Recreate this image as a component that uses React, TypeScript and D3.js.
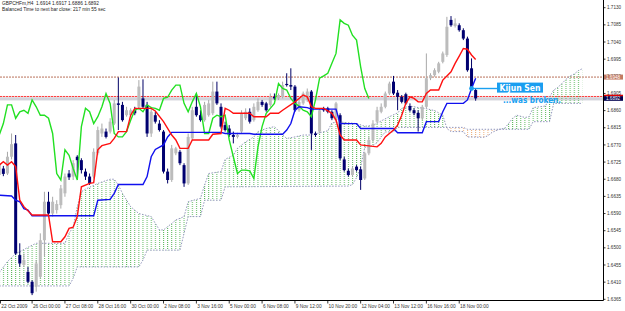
import React from "react";
import * as d3 from "d3";

// ---------- DATA ----------
// H4 candles, bar index 0..116
const OPEN = [1.6691,1.6708,1.6695,1.6739,1.6774,1.6481,1.6455,1.6437,1.6411,1.6398,1.6424,1.6520,1.6621,1.6590,1.6599,1.6612,1.6643,1.6695,1.6687,1.6739,1.6730,1.6700,1.6687,1.6687,1.6748,1.6800,1.6805,1.6805,1.6826,1.6879,1.6875,1.6848,1.6848,1.6861,1.6870,1.6892,1.6875,1.6800,1.6848,1.6826,1.6805,1.6700,1.6678,1.6748,1.6752,1.6717,1.6669,1.6787,1.6870,1.6848,1.6835,1.6848,1.6853,1.6910,1.6870,1.6822,1.6813,1.6796,1.6791,1.6805,1.6840,1.6857,1.6835,1.6861,1.6883,1.6879,1.6875,1.6896,1.6892,1.6896,1.6930,1.6927,1.6923,1.6861,1.6879,1.6888,1.6910,1.6800,1.6805,1.6866,1.6866,1.6857,1.6835,1.6848,1.6732,1.6702,1.6691,1.6713,1.6706,1.6682,1.6748,1.6783,1.6831,1.6857,1.6870,1.6905,1.6936,1.6907,1.6896,1.6903,1.6872,1.6861,1.6854,1.6840,1.6870,1.6945,1.6953,1.6962,1.6988,1.7006,1.7098,1.7082,1.7084,1.7071,1.7049,1.6971,1.6914];
const HIGH = [1.6730,1.6715,1.6752,1.6800,1.6796,1.6512,1.6485,1.6450,1.6415,1.6468,1.6538,1.6647,1.6647,1.6634,1.6625,1.6665,1.6695,1.6704,1.6730,1.6743,1.6735,1.6708,1.6695,1.6761,1.6818,1.6826,1.6813,1.6840,1.6888,1.6947,1.6883,1.6870,1.6866,1.6870,1.6940,1.6942,1.6883,1.6870,1.6857,1.6835,1.6809,1.6708,1.6770,1.6765,1.6757,1.6722,1.6800,1.6870,1.6905,1.6861,1.6883,1.6888,1.6936,1.6936,1.6879,1.6831,1.6822,1.6805,1.6802,1.6861,1.6866,1.6866,1.6879,1.6892,1.6888,1.6883,1.6905,1.6905,1.6905,1.6936,1.6958,1.6971,1.6927,1.6892,1.6910,1.6918,1.6914,1.6805,1.6866,1.6870,1.6870,1.6861,1.6883,1.6853,1.6739,1.6708,1.6713,1.6717,1.6713,1.6752,1.6791,1.6835,1.6870,1.6879,1.6910,1.6936,1.6951,1.6914,1.6901,1.6907,1.6879,1.6866,1.6861,1.6875,1.7010,1.6958,1.6971,1.6988,1.7015,1.7106,1.7108,1.7102,1.7089,1.7076,1.7054,1.6997,1.6917];
const LOW = [1.6687,1.6688,1.6691,1.6732,1.6481,1.6450,1.6450,1.6407,1.6376,1.6385,1.6420,1.6477,1.6582,1.6582,1.6590,1.6603,1.6634,1.6678,1.6678,1.6687,1.6695,1.6678,1.6665,1.6682,1.6743,1.6791,1.6787,1.6800,1.6822,1.6809,1.6831,1.6844,1.6844,1.6848,1.6861,1.6866,1.6791,1.6791,1.6826,1.6805,1.6695,1.6669,1.6673,1.6743,1.6717,1.6660,1.6665,1.6783,1.6844,1.6831,1.6831,1.6844,1.6848,1.6875,1.6813,1.6805,1.6791,1.6774,1.6787,1.6800,1.6835,1.6826,1.6831,1.6857,1.6870,1.6857,1.6870,1.6888,1.6888,1.6892,1.6923,1.6914,1.6857,1.6857,1.6875,1.6883,1.6757,1.6791,1.6800,1.6857,1.6853,1.6835,1.6831,1.6730,1.6700,1.6687,1.6687,1.6700,1.6652,1.6678,1.6743,1.6778,1.6826,1.6853,1.6866,1.6901,1.6901,1.6861,1.6879,1.6875,1.6857,1.6848,1.6805,1.6835,1.6866,1.6940,1.6949,1.6958,1.6984,1.7001,1.7080,1.7078,1.7067,1.7045,1.6962,1.6914,1.6886];
const CLOSE = [1.6722,1.6694,1.6739,1.6772,1.6485,1.6459,1.6468,1.6411,1.6381,1.6459,1.6520,1.6621,1.6590,1.6621,1.6615,1.6656,1.6687,1.6685,1.6722,1.6730,1.6704,1.6687,1.6669,1.6752,1.6809,1.6813,1.6791,1.6831,1.6879,1.6875,1.6835,1.6861,1.6861,1.6853,1.6923,1.6870,1.6800,1.6857,1.6831,1.6809,1.6700,1.6678,1.6761,1.6761,1.6722,1.6669,1.6791,1.6861,1.6848,1.6835,1.6875,1.6879,1.6910,1.6879,1.6818,1.6809,1.6796,1.6791,1.6796,1.6853,1.6857,1.6831,1.6870,1.6883,1.6875,1.6861,1.6896,1.6892,1.6901,1.6927,1.6927,1.6923,1.6861,1.6883,1.6905,1.6910,1.6800,1.6796,1.6861,1.6861,1.6857,1.6840,1.6879,1.6735,1.6704,1.6691,1.6708,1.6704,1.6678,1.6748,1.6783,1.6826,1.6861,1.6870,1.6905,1.6931,1.6905,1.6896,1.6883,1.6879,1.6861,1.6853,1.6840,1.6870,1.6945,1.6953,1.6966,1.6984,1.7010,1.7080,1.7084,1.7089,1.7071,1.7049,1.6966,1.6918,1.6892];

// Ichimoku lines: [bar index, price] vertices
const TENKAN = [[0,1.6717],[1,1.6726],[2,1.6717],[3,1.6726],[4,1.6713],[5,1.6625],[6,1.6608],[8,1.6586],[12,1.6586],[13,1.6516],[15,1.6516],[16,1.6529],[17,1.6551],[18,1.6554],[19,1.6582],[20,1.6660],[22,1.6669],[23,1.6671],[24,1.6757],[25,1.6768],[27,1.6774],[28,1.6787],[29,1.6805],[31,1.6805],[32,1.6848],[33,1.6866],[37,1.6866],[38,1.6859],[40,1.6831],[42,1.6796],[43,1.6783],[44,1.6761],[46,1.6761],[47,1.6783],[51,1.6783],[52,1.6798],[54,1.6800],[55,1.6866],[56,1.6861],[57,1.6853],[61,1.6853],[62,1.6844],[65,1.6844],[66,1.6853],[68,1.6853],[69,1.6861],[72,1.6883],[73,1.6892],[74,1.6901],[75,1.6896],[76,1.6870],[77,1.6866],[79,1.6866],[81,1.6853],[82,1.6835],[83,1.6796],[84,1.6783],[87,1.6783],[88,1.6770],[92,1.6765],[93,1.6774],[94,1.6791],[96,1.6809],[97,1.6822],[98,1.6848],[99,1.6879],[100,1.6896],[101,1.6892],[102,1.6883],[103,1.6883],[104,1.6905],[105,1.6914],[107,1.6914],[108,1.6940],[109,1.6951],[110,1.6962],[111,1.6984],[112,1.7003],[113,1.7023],[114,1.7021],[115,1.7006],[116,1.6994]];
const KIJUN = [[0,1.6638],[3,1.6636],[4,1.6625],[5,1.6621],[6,1.6603],[7,1.6599],[8,1.6584],[23,1.6584],[24,1.6625],[27,1.6627],[28,1.6643],[29,1.6666],[35,1.6666],[36,1.6687],[37,1.6739],[38,1.6758],[40,1.6770],[41,1.6791],[42,1.6803],[54,1.6803],[55,1.6800],[61,1.6800],[62,1.6798],[69,1.6798],[70,1.6809],[71,1.6826],[72,1.6861],[73,1.6870],[75,1.6868],[76,1.6864],[82,1.6864],[83,1.6826],[87,1.6826],[88,1.6813],[96,1.6813],[97,1.6802],[103,1.6802],[104,1.6831],[107,1.6831],[108,1.6857],[109,1.6879],[113,1.6879],[114,1.6888],[115,1.6918],[116,1.6945]];
const CHIKOU = [[0,1.6796],[1,1.6826],[2,1.6875],[3,1.6875],[4,1.6840],[5,1.6857],[6,1.6861],[7,1.6853],[8,1.6888],[9,1.6870],[10,1.6848],[11,1.6848],[12,1.6840],[13,1.6800],[14,1.6695],[15,1.6678],[16,1.6757],[17,1.6743],[18,1.6708],[19,1.6678],[20,1.6818],[21,1.6866],[22,1.6857],[23,1.6826],[24,1.6844],[25,1.6870],[26,1.6905],[27,1.6879],[28,1.6800],[29,1.6791],[30,1.6791],[31,1.6805],[32,1.6835],[33,1.6861],[34,1.6866],[35,1.6857],[36,1.6875],[37,1.6868],[38,1.6866],[39,1.6861],[40,1.6892],[41,1.6895],[42,1.6914],[43,1.6927],[44,1.6927],[45,1.6879],[46,1.6857],[47,1.6883],[48,1.6905],[49,1.6870],[50,1.6800],[51,1.6800],[52,1.6840],[53,1.6848],[54,1.6844],[55,1.6848],[56,1.6783],[57,1.6739],[58,1.6695],[59,1.6704],[60,1.6704],[61,1.6702],[62,1.6682],[63,1.6765],[64,1.6818],[65,1.6853],[66,1.6866],[67,1.6879],[68,1.6931],[69,1.6918],[70,1.6914],[71,1.6892],[72,1.6879],[73,1.6872],[74,1.6861],[75,1.6857],[76,1.6844],[77,1.6888],[78,1.6945],[79,1.6951],[80,1.6958],[81,1.6984],[82,1.7010],[83,1.7098],[84,1.7089],[85,1.7084],[86,1.7058],[87,1.7045],[88,1.6975],[89,1.6918],[90,1.6892]];
const SPAN_A = [[0,1.6435],[2,1.6464],[4,1.6485],[5,1.6490],[8,1.6507],[9,1.6512],[16,1.6512],[17,1.6538],[18,1.6555],[19,1.6608],[20,1.6647],[21,1.6654],[24,1.6669],[27,1.6680],[28,1.6680],[29,1.6665],[30,1.6643],[32,1.6608],[34,1.6590],[37,1.6582],[39,1.6547],[40,1.6547],[42,1.6564],[43,1.6573],[45,1.6582],[46,1.6621],[49,1.6630],[50,1.6665],[51,1.6695],[54,1.6700],[55,1.6732],[57,1.6743],[58,1.6761],[60,1.6778],[62,1.6791],[63,1.6805],[65,1.6813],[67,1.6818],[69,1.6796],[70,1.6787],[72,1.6791],[74,1.6796],[76,1.6796],[78,1.6802],[80,1.6807],[81,1.6828],[83,1.6830],[87,1.6826],[89,1.6819],[91,1.6821],[93,1.6833],[95,1.6844],[97,1.6854],[98,1.6866],[100,1.6872],[102,1.6868],[104,1.6865],[106,1.6860],[107,1.6854],[108,1.6848],[109,1.6813],[110,1.6805],[113,1.6805],[114,1.6791],[118,1.6790],[119,1.6794],[120,1.6803],[122,1.6812],[123,1.6813],[124,1.6826],[125,1.6840],[126,1.6848],[128,1.6842],[129,1.6844],[130,1.6868],[133,1.6872],[134,1.6896],[135,1.6914],[136,1.6921],[137,1.6931],[138,1.6942],[139,1.6951],[140,1.6956],[141,1.6965],[142,1.6970]];
const SPAN_B = [[0,1.6400],[17,1.6400],[18,1.6420],[19,1.6450],[34,1.6450],[35,1.6468],[36,1.6494],[44,1.6494],[45,1.6538],[46,1.6582],[49,1.6582],[50,1.6625],[54,1.6625],[55,1.6660],[85,1.6662],[86,1.6666],[87,1.6684],[88,1.6712],[89,1.6764],[90,1.6764],[91,1.6769],[92,1.6776],[93,1.6791],[94,1.6804],[96,1.6804],[97,1.6816],[113,1.6816],[114,1.6811],[129,1.6811],[130,1.6831],[134,1.6831],[135,1.6879],[142,1.6879]];

const PRICE_TICKS = [1.7130,1.7085,1.7040,1.6995,1.6950,1.6905,1.6860,1.6815,1.6770,1.6725,1.6680,1.6635,1.6590,1.6545,1.6500,1.6455,1.6410,1.6365];
const TIME_LABELS = ["22 Oct 2009","26 Oct 00:00","27 Oct 08:00","28 Oct 16:00","30 Oct 00:00","2 Nov 08:00","3 Nov 16:00","5 Nov 00:00","6 Nov 08:00","9 Nov 12:00","10 Nov 20:00","12 Nov 04:00","13 Nov 12:00","16 Nov 16:00","18 Nov 00:00"];
const TIME_LABEL_BARS = [0,8,16,24,32,40,48,56,64,72,80,88,96,104,112];

const LEVEL_LINE = 1.6948;
const ASK = 1.6897;
const BID = 1.6892;
const KIJUN_BREAK_BAR = 115;
const TITLE_1 = "GBPCHFm,H4  1.6914 1.6917 1.6886 1.6892";
const TITLE_2 = "Balanced Time to next bar close: 217 min 55 sec";

export default function App() {
  const W = 625, H = 311;
  const RIGHT = 603.5, BOTTOM = 300.5;
  const x = d3.scaleLinear().domain([0, 116]).range([-0.76, 475.65]);
  const step = x(1) - x(0);
  const y = d3.scaleLinear().domain([1.6365, 1.713]).range([299.3, 7.7]);
  const line = d3.line<number[]>().x((d) => x(d[0])).y((d) => y(d[1]));

  const poly = (pts: number[][], edge: number) => {
    const p = pts.map((d) => [x(d[0]), y(d[1])]);
    return (
      "M" + p.map((q) => q[0].toFixed(2) + "," + q[1].toFixed(2)).join("L") +
      `L${p[p.length - 1][0].toFixed(2)},${edge}L${p[0][0].toFixed(2)},${edge}Z`
    );
  };
  const font = "'Liberation Sans', Arial, sans-serif";
  const kijunAt = KIJUN.find((d) => d[0] === KIJUN_BREAK_BAR)!;
  const dotX = x(kijunAt[0]);
  const dotY = y(kijunAt[1]);

  return (
    <svg width={W} height={H} style={{ position: "absolute", left: 0, top: 0, background: "#fff", display: "block" }}>
      <defs>
        <clipPath id="plot"><rect x={0} y={0} width={RIGHT} height={BOTTOM} /></clipPath>
        <clipPath id="aboveB"><path d={poly(SPAN_B, -20)} /></clipPath>
        <clipPath id="belowB"><path d={poly(SPAN_B, 340)} /></clipPath>
        <pattern id="dotG" patternUnits="userSpaceOnUse" x={x(0) - 0.5} y={0} width={step} height={2}>
          <rect x={0} y={0} width={1} height={1} fill="#5cb85c" />
        </pattern>
        <pattern id="dotO" patternUnits="userSpaceOnUse" x={x(0) - 0.5} y={0} width={step} height={2}>
          <rect x={0} y={0} width={1} height={1} fill="#eeae78" />
        </pattern>
      </defs>
      <rect x={0} y={0} width={W} height={H} fill="#fff" />

      <g clipPath="url(#plot)">
        {/* price level lines */}
        <line x1={0} x2={RIGHT} y1={y(LEVEL_LINE)} y2={y(LEVEL_LINE)} stroke="#b8705a" strokeWidth={1} strokeDasharray="2,1" />
        <rect x={0} y={y(ASK) - 0.6} width={RIGHT} height={1.4} fill="#f6c4c4" />
        <line x1={0} x2={RIGHT} y1={y(ASK)} y2={y(ASK)} stroke="#ff4040" strokeWidth={1} strokeDasharray="2,1" />
        <rect x={0} y={y(ASK) + 0.8} width={RIGHT} height={y(BID) - y(ASK) + 1.2} fill="#d2d2da" />

        {/* cloud */}
        <g clipPath="url(#aboveB)"><path d={poly(SPAN_A, 340)} fill="url(#dotG)" /></g>
        <g clipPath="url(#belowB)"><path d={poly(SPAN_A, -20)} fill="url(#dotO)" /></g>
        <path d={line(SPAN_A as number[][]) || ""} fill="none" stroke="#9296bc" strokeWidth={1} strokeDasharray="1.5,1.5" />
        <path d={line(SPAN_B as number[][]) || ""} fill="none" stroke="#9296bc" strokeWidth={1} strokeDasharray="1.5,1.5" />

        {/* candles */}
        {OPEN.map((o, i) => {
          const c = CLOSE[i];
          const bull = c >= o;
          const cx = x(i);
          const top = y(Math.max(o, c));
          const bot = y(Math.min(o, c));
          return (
            <g key={i}>
              <line x1={cx} x2={cx} y1={y(HIGH[i])} y2={y(LOW[i])} stroke={bull ? "#a8a8a8" : "#000066"} strokeWidth={1} />
              <rect x={cx - 1.5} y={top} width={3} height={Math.max(1, bot - top)} fill={bull ? "#bcbcbc" : "#000070"} />
            </g>
          );
        })}

        {/* lines */}
        <path d={line(CHIKOU as number[][]) || ""} fill="none" stroke="#22e022" strokeWidth={1.4} />
        <path d={line(KIJUN as number[][]) || ""} fill="none" stroke="#1010ee" strokeWidth={1.4} />
        <path d={line(TENKAN as number[][]) || ""} fill="none" stroke="#ff1010" strokeWidth={1.4} />
      </g>

      {/* annotation */}
      <line x1={dotX} x2={497} y1={dotY} y2={dotY} stroke="#1aa0f0" strokeWidth={1.4} />
      <circle cx={dotX} cy={dotY} r={2.4} fill="#1aa0f0" />
      <rect x={497} y={82.6} width={46} height={10} fill="#1a9ef0" />
      <text x={499.5} y={91.3} fontFamily="'DejaVu Sans Condensed', 'DejaVu Sans', sans-serif" fontWeight="bold" fontSize={9} fill="#fff" textLength={41} lengthAdjust="spacingAndGlyphs">Kijun Sen</text>
      <text x={503} y={103.2} fontFamily="'DejaVu Sans Condensed', 'DejaVu Sans', sans-serif" fontWeight="bold" fontSize={8.6} fill="#18a0f2" textLength={58} lengthAdjust="spacingAndGlyphs">...was broken.</text>

      {/* axes frame */}
      <line x1={RIGHT} x2={RIGHT} y1={0} y2={BOTTOM} stroke="#000" strokeWidth={1} />
      <line x1={0} x2={RIGHT} y1={BOTTOM} y2={BOTTOM} stroke="#000" strokeWidth={1} />

      {/* price axis */}
      {PRICE_TICKS.map((p) => (
        <g key={p}>
          <line x1={RIGHT} x2={RIGHT + 2} y1={y(p)} y2={y(p)} stroke="#000" strokeWidth={0.8} />
          <text x={607} y={y(p) + 1.6} fontFamily={font} fontSize={4.6} fill="#333">{p.toFixed(4)}</text>
        </g>
      ))}
      <rect x={RIGHT + 0.5} y={y(LEVEL_LINE) - 2.5} width={19} height={5} fill="#c27a62" />
      <text x={606} y={y(LEVEL_LINE) + 1.6} fontFamily={font} fontSize={4.6} fill="#fff">{LEVEL_LINE.toFixed(4)}</text>
      <rect x={RIGHT + 0.5} y={y(ASK) - 1.8} width={19} height={2} fill="#e00000" />
      <rect x={RIGHT + 0.5} y={y(BID) - 2.2} width={19} height={4.6} fill="#00004e" />
      <text x={606} y={y(BID) + 1.6} fontFamily={font} fontSize={4.6} fill="#fff">{BID.toFixed(4)}</text>

      {/* time axis */}
      {TIME_LABELS.map((t, i) => {
        const tx = Math.max(0.5, x(TIME_LABEL_BARS[i]));
        return (
          <g key={t}>
            <line x1={tx} x2={tx} y1={BOTTOM} y2={BOTTOM + 3} stroke="#000" strokeWidth={0.8} />
            <text x={tx + 0.8} y={308.3} fontFamily={font} fontSize={4.8} fill="#333">{t}</text>
          </g>
        );
      })}

      {/* title */}
      <text x={2} y={5.3} fontFamily={font} fontSize={4.8} fill="#222" style={{ whiteSpace: "pre" }}>{TITLE_1}</text>
      <text x={2} y={10.8} fontFamily={font} fontSize={4.8} fill="#222">{TITLE_2}</text>
    </svg>
  );
}
